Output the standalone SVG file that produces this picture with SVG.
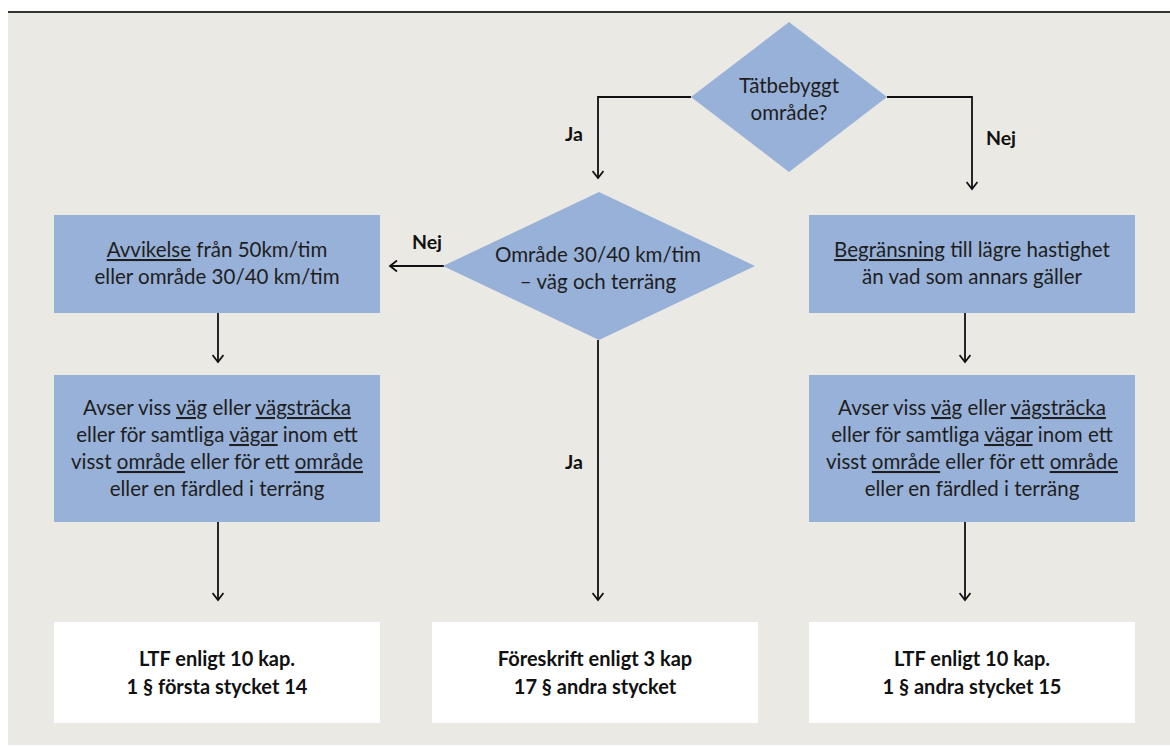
<svg xmlns="http://www.w3.org/2000/svg" width="1170" height="747" viewBox="0 0 1170 747">
  <style>
    .panel { fill: #ebe9e4; }
    .rule { stroke: #333333; stroke-width: 2; }
    .shape { fill: #98b1d8; }
    .result { fill: #ffffff; }
    .txt { font-family: Lato, "Open Sans", "Liberation Sans", sans-serif; font-size: 20.5px; fill: #1e1e1e; text-anchor: middle; }
    .bold { font-family: Lato, "Open Sans", "Liberation Sans", sans-serif; font-size: 20px; font-weight: bold; fill: #111111; text-anchor: middle; }
    .lbl { font-family: Lato, "Open Sans", "Liberation Sans", sans-serif; font-size: 19.5px; font-weight: bold; fill: #111111; text-anchor: middle; }
    .u { text-decoration: underline; }
    .conn { fill: none; stroke: #111111; stroke-width: 1.8; marker-end: url(#arrow); }
  </style>
  <defs>
    <marker id="arrow" viewBox="0 0 12 12" refX="10" refY="6" markerWidth="12" markerHeight="12" markerUnits="userSpaceOnUse" orient="auto">
      <path d="M3,0.5 L10,6 L3,11.5" fill="none" stroke="#111111" stroke-width="1.8"/>
    </marker>
  </defs>

  <rect x="0" y="0" width="1170" height="747" fill="#ffffff"/>
  <rect class="panel" x="8" y="12" width="1162" height="733"/>
  <line class="rule" x1="8" y1="12" x2="1170" y2="12"/>

  <g id="connectors">
    <path class="conn" d="M691,97 H598 V178"/>
    <path class="conn" d="M887,97 H972 V189"/>
    <path class="conn" d="M444,266 H390"/>
    <path class="conn" d="M598,340 V600"/>
    <path class="conn" d="M218,313 V362"/>
    <path class="conn" d="M218,522 V600"/>
    <path class="conn" d="M965,313 V362"/>
    <path class="conn" d="M965,522 V600"/>
    <text class="lbl" x="574" y="141">Ja</text>
    <text class="lbl" x="1001" y="145">Nej</text>
    <text class="lbl" x="427" y="249">Nej</text>
    <text class="lbl" x="574" y="469">Ja</text>
  </g>

  <g id="q-tatbebyggt">
    <polygon class="shape" points="789,22 887,97 789,172 691,97"/>
    <text class="txt" x="789" y="93">Tätbebyggt</text>
    <text class="txt" x="789" y="120">område?</text>
  </g>

  <g id="q-omrade">
    <polygon class="shape" points="599,192 755,266 599,340 443,266"/>
    <text class="txt" x="598" y="262">Område 30/40 km/tim</text>
    <text class="txt" x="598" y="289">– väg och terräng</text>
  </g>

  <g id="avvikelse">
    <rect class="shape" x="54" y="215" width="326" height="98"/>
    <text class="txt" x="217" y="257"><tspan class="u">Avvikelse</tspan> från 50km/tim</text>
    <text class="txt" x="217" y="284">eller område 30/40 km/tim</text>
  </g>

  <g id="begransning">
    <rect class="shape" x="809" y="215" width="326" height="98"/>
    <text class="txt" x="972" y="257"><tspan class="u">Begränsning</tspan> till lägre hastighet</text>
    <text class="txt" x="972" y="284">än vad som annars gäller</text>
  </g>

  <g id="avser-left">
    <rect class="shape" x="54" y="375" width="326" height="147"/>
    <text class="txt" x="217" y="415">Avser viss <tspan class="u">väg</tspan> eller <tspan class="u">vägsträcka</tspan></text>
    <text class="txt" x="217" y="442">eller för samtliga <tspan class="u">vägar</tspan> inom ett</text>
    <text class="txt" x="217" y="469">visst <tspan class="u">område</tspan> eller för ett <tspan class="u">område</tspan></text>
    <text class="txt" x="217" y="496">eller en färdled i terräng</text>
  </g>

  <g id="avser-right">
    <rect class="shape" x="809" y="375" width="326" height="147"/>
    <text class="txt" x="972" y="415">Avser viss <tspan class="u">väg</tspan> eller <tspan class="u">vägsträcka</tspan></text>
    <text class="txt" x="972" y="442">eller för samtliga <tspan class="u">vägar</tspan> inom ett</text>
    <text class="txt" x="972" y="469">visst <tspan class="u">område</tspan> eller för ett <tspan class="u">område</tspan></text>
    <text class="txt" x="972" y="496">eller en färdled i terräng</text>
  </g>

  <g id="ltf-forsta">
    <rect class="result" x="54" y="622" width="326" height="101"/>
    <text class="bold" x="217" y="666">LTF enligt 10 kap.</text>
    <text class="bold" x="217" y="694">1 § första stycket 14</text>
  </g>

  <g id="foreskrift">
    <rect class="result" x="432" y="622" width="326" height="101"/>
    <text class="bold" x="595" y="666">Föreskrift enligt 3 kap</text>
    <text class="bold" x="595" y="694">17 § andra stycket</text>
  </g>

  <g id="ltf-andra">
    <rect class="result" x="809" y="622" width="326" height="101"/>
    <text class="bold" x="972" y="666">LTF enligt 10 kap.</text>
    <text class="bold" x="972" y="694">1 § andra stycket 15</text>
  </g>
</svg>
